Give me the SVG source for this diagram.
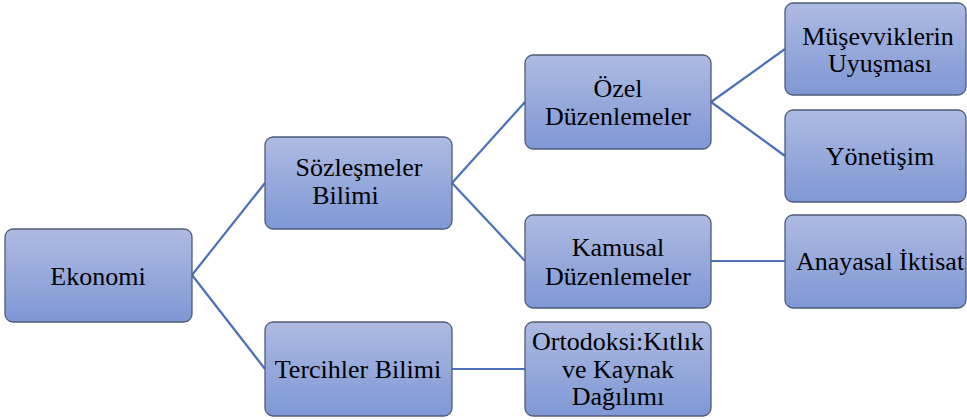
<svg xmlns="http://www.w3.org/2000/svg" width="967" height="420" viewBox="0 0 967 420">
<defs>
<linearGradient id="g" x1="0" y1="0" x2="0" y2="1">
<stop offset="0" stop-color="#aebbe2"/>
<stop offset="1" stop-color="#7f97d5"/>
</linearGradient>
</defs>
<style>
.box{fill:url(#g);stroke:#4f5b78;stroke-width:1.3}
.t{font-family:"Liberation Serif","Times New Roman",serif;font-size:26px;fill:#000;text-anchor:middle}
.c{stroke:#4a70bb;stroke-width:2.2;fill:none}
</style>
<rect width="967" height="420" fill="#fff"/>
<g id="connectors">
<path class="c" d="M192 275 L265 183"/>
<path class="c" d="M192 275 L265 369"/>
<path class="c" d="M452 183 L525 102"/>
<path class="c" d="M452 183 L525 261"/>
<path class="c" d="M711 102 L785 49"/>
<path class="c" d="M711 102 L785 156"/>
<path class="c" d="M711 261 L785 261"/>
<path class="c" d="M452 369 L525 369"/>
</g>
<g id="ekonomi">
<rect class="box" x="5" y="229" width="187" height="93" rx="8"/>
<text class="t" x="98" y="285">Ekonomi</text>
</g>
<g id="sozlesmeler">
<rect class="box" x="265" y="137" width="187" height="92" rx="8"/>
<text class="t" x="359" y="175.5">Sözleşmeler</text>
<text class="t" x="345.5" y="204">Bilimi</text>
</g>
<g id="tercihler">
<rect class="box" x="265" y="322" width="187" height="94" rx="8"/>
<text class="t" x="358" y="378">Tercihler Bilimi</text>
</g>
<g id="ozel">
<rect class="box" x="525" y="55" width="186" height="94" rx="8"/>
<text class="t" x="618" y="96.5">Özel</text>
<text class="t" x="618" y="125">Düzenlemeler</text>
</g>
<g id="kamusal">
<rect class="box" x="525" y="215" width="186" height="93" rx="8"/>
<text class="t" x="618" y="255.5">Kamusal</text>
<text class="t" x="618" y="285">Düzenlemeler</text>
</g>
<g id="ortodoksi">
<rect class="box" x="525" y="322" width="186" height="94" rx="8"/>
<text class="t" x="618" y="350">Ortodoksi:Kıtlık</text>
<text class="t" x="618" y="378">ve Kaynak</text>
<text class="t" x="618" y="405">Dağılımı</text>
</g>
<g id="musevviklerin">
<rect class="box" x="785" y="3" width="181" height="92" rx="8"/>
<text class="t" x="878" y="44.5">Müşevviklerin</text>
<text class="t" x="880" y="71.5">Uyuşması</text>
</g>
<g id="yonetisim">
<rect class="box" x="785" y="110" width="181" height="92" rx="8"/>
<text class="t" x="880" y="165">Yönetişim</text>
</g>
<g id="anayasal">
<rect class="box" x="785" y="215" width="181" height="93" rx="8"/>
<text class="t" x="880" y="270">Anayasal İktisat</text>
</g>
</svg>
